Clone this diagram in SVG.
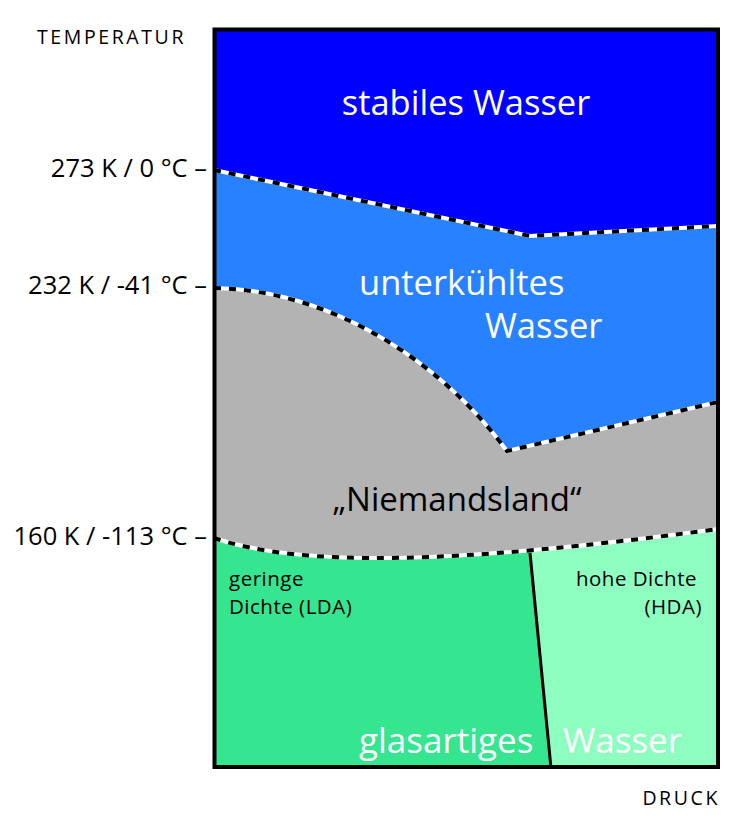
<svg xmlns="http://www.w3.org/2000/svg" width="749" height="840" viewBox="0 0 749 840">
<style>
.lbl{font-family:"Open Sans","Noto Sans",sans-serif;font-size:25.5px;fill:#000}
.axis{font-family:"Open Sans","Noto Sans",sans-serif;font-size:19.5px;letter-spacing:2.6px;fill:#000}
.big{font-family:"Open Sans","Noto Sans",sans-serif;font-size:34.5px;fill:#fff}
.small{font-family:"Open Sans","Noto Sans",sans-serif;font-size:20.5px;letter-spacing:0.5px;fill:#000}
.bw{fill:none;stroke:#fff;stroke-width:4}
.bd{fill:none;stroke:#000;stroke-width:4;stroke-dasharray:7 8}
</style>
<g id="regions">
<path id="stabil" d="M214,29 H718 V226 L530,236 L214,170 Z" fill="#0000FF"/>
<path id="unterkuehlt" d="M214,170 L530,236 L718,226 V402 L507,451 C440,360 330,290 214,288 Z" fill="#2882FF"/>
<path id="niemandsland" d="M214,288 C330,290 440,360 507,451 L718,402 V529 C450,565 300,567 214,538 Z" fill="#B3B3B3"/>
<path id="lda" d="M214,538 C300,567 450,565 718,529 L530,553 L551,768 H214 Z" fill="#36E58F"/>
<path id="hda" d="M530,553 C600,546 660,539 718,529 V768 H551 Z" fill="#8DFDC0"/>
</g>
<g id="connectors">
<path class="bw" d="M214,170 L530,236 L718,226"/>
<path class="bd" d="M214,170 L530,236 L718,226"/>
<path class="bw" d="M214,288 C330,290 440,360 507,451 L718,402"/>
<path class="bd" d="M214,288 C330,290 440,360 507,451 L718,402"/>
<path class="bw" d="M214,538 C300,567 450,565 718,529"/>
<path class="bd" d="M214,538 C300,567 450,565 718,529"/>
<path d="M530,553 L551,768" fill="none" stroke="#000" stroke-width="3"/>
</g>
<rect id="frame" x="214.5" y="29.5" width="503.5" height="737.5" fill="none" stroke="#000" stroke-width="4"/>
<g id="labels">
<text class="axis" x="37" y="44">TEMPERATUR</text>
<text class="axis" x="720" y="805" text-anchor="end">DRUCK</text>
<text class="lbl" x="207" y="177" text-anchor="end">273 K / 0 °C –</text>
<text class="lbl" x="207" y="294" text-anchor="end">232 K / -41 °C –</text>
<text class="lbl" x="207" y="545" text-anchor="end">160 K / -113 °C –</text>
<text class="big" x="466" y="115" text-anchor="middle">stabiles Wasser</text>
<text class="big" x="359" y="295">unterkühltes</text>
<text class="big" x="485" y="338">Wasser</text>
<text class="big" x="457" y="511" text-anchor="middle" style="fill:#000;font-size:33px">„Niemandsland“</text>
<text class="small" x="229" y="586">geringe</text>
<text class="small" x="229" y="614">Dichte (LDA)</text>
<text class="small" x="697" y="586" text-anchor="end">hohe Dichte</text>
<text class="small" x="702" y="614" text-anchor="end">(HDA)</text>
<text class="big" x="359" y="753" style="font-size:35px">glasartiges</text>
<text class="big" x="563" y="753" style="font-size:35px">Wasser</text>
</g>
</svg>
